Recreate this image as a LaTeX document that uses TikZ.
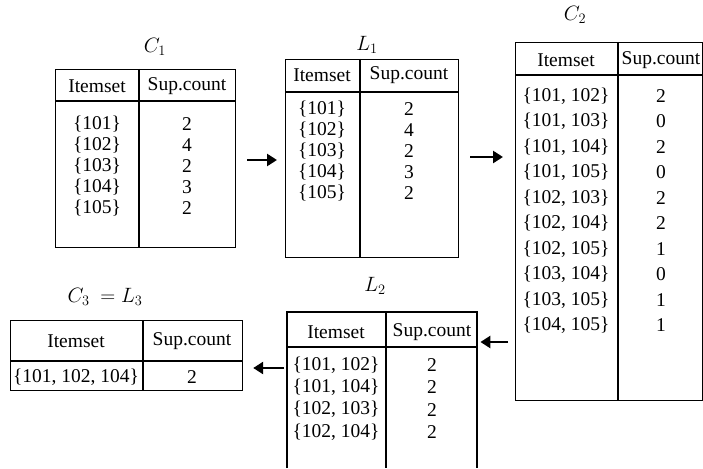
\documentclass[tikz,border=0pt]{standalone}
\usepackage{fontspec}
\setmainfont{Liberation Serif}
\usetikzlibrary{arrows.meta,calc}
\begin{document}
\begin{tikzpicture}[x=1pt,y=-1pt,
  tframe/.style={draw, line width=1.2pt, inner sep=0pt, anchor=north west},
  rule/.style={line width=1.2pt},
  cell/.style={inner sep=0pt, font=\fontsize{19.5}{22}\selectfont},
  ttl/.style={inner sep=0pt, font=\fontsize{20}{24}\selectfont},
  flow/.style={line width=2.6pt, -{Triangle[length=10pt,width=12pt]}}
]
\useasboundingbox (0,0) rectangle (703,468);

% ---------- C1 ----------
\node[ttl] (t1) at (155,47) {$C_1$};
\node[tframe, minimum width=180pt, minimum height=178pt] (c1) at (55,69) {};
\draw[rule] (55,101) -- (235,101);
\draw[rule] (139,69) -- (139,247);
\node[cell] (c1h1) at (97,86) {Itemset};
\node[cell] (c1h2) at (187,86) {Sup.count};
\foreach \s/\n [count=\i from 0] in {101/2,102/4,103/2,104/3,105/2}{
  \node[cell] (c1a\i) at (97,124+21*\i) {\{\s\}};
  \node[cell] (c1b\i) at (187,124+21*\i) {\n};
}

% ---------- L1 ----------
\node[ttl] (t2) at (367,45) {$L_1$};
\node[tframe, minimum width=173pt, minimum height=198pt] (l1) at (285,59) {};
\draw[rule] (285,92) -- (458,92);
\draw[rule] (360,59) -- (360,257);
\node[cell] (l1h1) at (322,75) {Itemset};
\node[cell] (l1h2) at (409,75) {Sup.count};
\foreach \s/\n [count=\i from 0] in {101/2,102/4,103/2,104/3,105/2}{
  \node[cell] (l1a\i) at (322,109+21*\i) {\{\s\}};
  \node[cell] (l1b\i) at (409,109+21*\i) {\n};
}

% ---------- C2 ----------
\node[ttl] (t3) at (575,15) {$C_2$};
\node[tframe, minimum width=187pt, minimum height=358pt] (c2) at (515,42) {};
\draw[rule] (515,75) -- (702,75);
\draw[rule] (618,42) -- (618,400);
\node[cell] (c2h1) at (566,60) {Itemset};
\node[cell] (c2h2) at (661,60) {Sup.count};
\foreach \s/\n [count=\i from 0] in
  {{101, 102}/2,{101, 103}/0,{101, 104}/2,{101, 105}/0,{102, 103}/2,
   {102, 104}/2,{102, 105}/1,{103, 104}/0,{103, 105}/1,{104, 105}/1}{
  \node[cell] (c2a\i) at (566,96+25.5*\i) {\{\s\}};
  \node[cell] (c2b\i) at (661,96+25.5*\i) {\n};
}

% ---------- L2 (open at the bottom) ----------
\node[ttl] (t4) at (375,286) {$L_2$};
\node[inner sep=0pt, minimum width=190pt, minimum height=156pt, anchor=north west] (l2) at (287,312) {};
\draw[rule] (287,468) |- (477,312) -- (477,468);
\draw[rule] (287,347) -- (477,347);
\draw[rule] (386,312) -- (386,468);
\node[cell] (l2h1) at (336,332) {Itemset};
\node[cell] (l2h2) at (432,332) {Sup.count};
\foreach \s/\n [count=\i from 0] in {{101, 102}/2,{101, 104}/2,{102, 103}/2,{102, 104}/2}{
  \node[cell] (l2a\i) at (336,365+22.3*\i) {\{\s\}};
  \node[cell] (l2b\i) at (432,365+22.3*\i) {\n};
}

% ---------- C3 = L3 ----------
\node[ttl] (t5) at (105,297) {$C_3\ = L_3$};
\node[tframe, minimum width=232pt, minimum height=70pt] (c3) at (10,320) {};
\draw[rule] (10,361) -- (242,361);
\draw[rule] (143,320) -- (143,390);
\node[cell] (c3h1) at (76,341) {Itemset};
\node[cell] (c3h2) at (192,341) {Sup.count};
\node[cell] (c3a0) at (76,377) {\{101, 102, 104\}};
\node[cell] (c3b0) at (192,377) {2};

% ---------- flow arrows ----------
\coordinate (f1) at (247,160);
\coordinate (f2) at (470,157);
\coordinate (f3) at (508,342);
\coordinate (f4) at (284,368);
\draw[flow, shorten >=8pt] (f1) -- (f1 -| l1.west);
\draw[flow, shorten >=12pt] (f2) -- (f2 -| c2.west);
\draw[flow, shorten >=3pt] (f3) -- (f3 -| l2.east);
\draw[flow, shorten >=10pt] (f4) -- (f4 -| c3.east);
\end{tikzpicture}
\end{document}
